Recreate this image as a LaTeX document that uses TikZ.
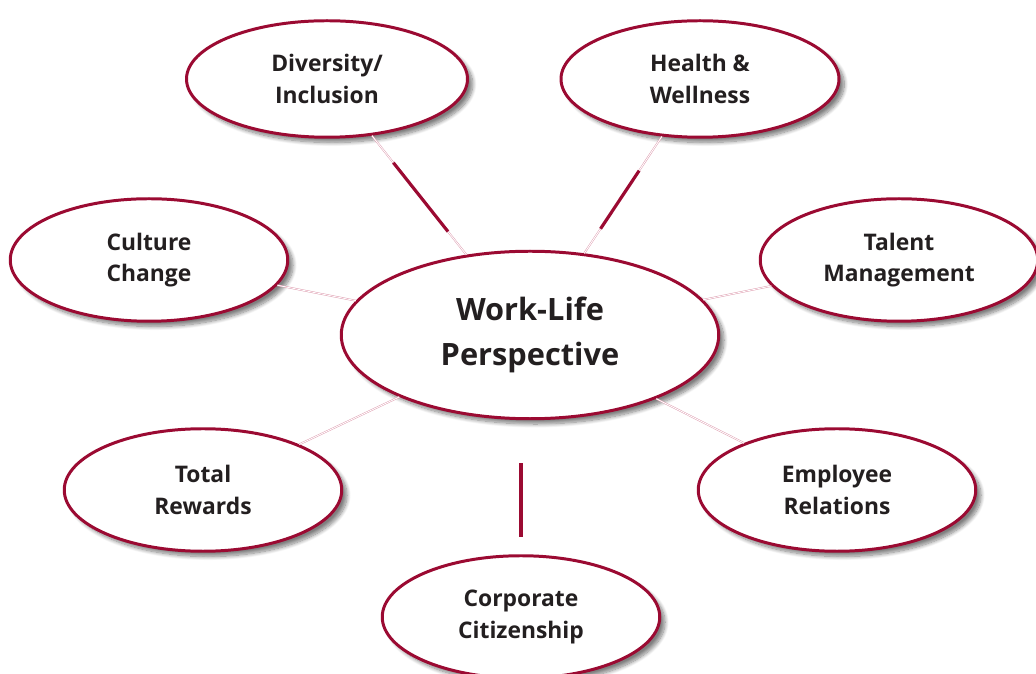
\documentclass[tikz,border=0pt]{standalone}
\usepackage{fontspec}
\setmainfont{Open Sans}
\usetikzlibrary{shapes.geometric,shadows.blur}
\definecolor{wine}{RGB}{155,10,50}
\definecolor{blush}{RGB}{220,150,170}
\definecolor{ink}{RGB}{35,31,32}

\begin{document}
\begin{tikzpicture}[
   topic/.style={draw=wine,line width=1.7pt,ellipse,fill=white,inner sep=0pt,
      minimum width=5.55cm,minimum height=2.45cm,align=center,text=ink,
      font=\bfseries\fontsize{13}{18}\selectfont,
      blur shadow={shadow xshift=3pt,shadow yshift=-3pt,shadow blur steps=10,shadow opacity=50}},
   hub/.style={topic,minimum width=7.55cm,minimum height=3.35cm,
      font=\bfseries\fontsize{17.5}{25.5}\selectfont},
   link/.style={draw=blush,line width=0.25pt,double=white,double distance=0.5pt},
   bar/.style={draw=wine,line width=1.8pt}]
\useasboundingbox (0,0) rectangle (20.72,13.48);

% outer topics
\node[topic,minimum width=5.62cm,minimum height=2.33cm] (div) at (6.54,11.9) {Diversity/\\Inclusion};
\node[topic,minimum width=5.56cm,minimum height=2.33cm] (hw) at (14.0,11.9) {Health \&\\Wellness};
\node[topic] (cul) at (2.98,8.28) {Culture\\Change};
\node[topic] (tal) at (17.98,8.28) {Talent\\Management};
\node[topic] (tot) at (4.06,3.68) {Total\\Rewards};
\node[topic] (emp) at (16.74,3.68) {Employee\\Relations};
\node[topic] (cor) at (10.42,1.14) {Corporate\\Citizenship};

% hub
\node[hub] (wl) at (10.6,6.78) {Work-Life\\Perspective};

% connectors
\foreach \t in {div,hw,cul,tal,tot,emp}
   \draw[link] (wl) -- (\t);
\draw[bar,shorten <=0.59cm,shorten >=0.69cm] (wl) -- (div);
\draw[bar,shorten <=0.59cm,shorten >=0.82cm] (wl) -- (hw);
\draw[bar,shorten <=0.86cm,shorten >=0.34cm] (cor.north |- wl.south) -- (cor.north);

\end{tikzpicture}
\end{document}
